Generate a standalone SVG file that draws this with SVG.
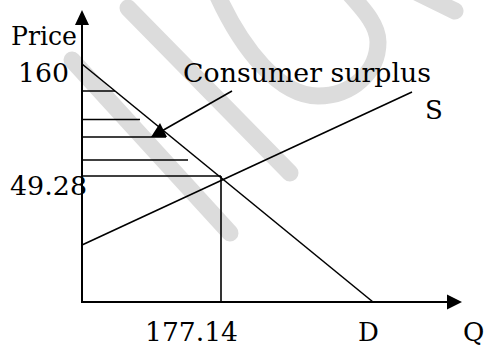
<svg xmlns="http://www.w3.org/2000/svg" width="485" height="347" viewBox="0 0 485 347">
  <style>
    .wm { fill: none; stroke: #dcdcdc; stroke-width: 17; stroke-linecap: round; stroke-linejoin: round; }
    .ax { stroke: #000; stroke-width: 2; fill: none; }
    .ln { stroke: #000; stroke-width: 1.6; fill: none; }
    .hl { stroke: #000; stroke-width: 1.6; fill: none; }
    .t { font-family: "DejaVu Serif", "Liberation Serif", serif; font-size: 26px; fill: #000; }
  </style>
  <rect width="485" height="347" fill="#fff"/>
  <g id="watermark">
    <line class="wm" x1="72" y1="60" x2="230" y2="233"/>
    <line class="wm" x1="128" y1="8" x2="290" y2="173"/>
    <path class="wm" d="M216,-8 C242,50 280,96 318,96 C352,96 378,72 378,42 C378,24 362,8 348,-8"/>
    <line class="wm" x1="412" y1="-10" x2="455" y2="11"/>
  </g>
  <g id="axes">
    <line class="ax" x1="82" y1="24" x2="82" y2="303"/>
    <polygon points="82,10 75,25 89,25" fill="#000"/>
    <line class="ax" x1="81" y1="302" x2="448" y2="302"/>
    <polygon points="462,302 447,294.5 447,309.5" fill="#000"/>
  </g>
  <g id="hatching">
    <line class="hl" x1="82" y1="91" x2="115" y2="91"/>
    <line class="hl" x1="82" y1="119.5" x2="140" y2="119.5"/>
    <line class="hl" x1="82" y1="137" x2="166" y2="137"/>
    <line class="hl" x1="82" y1="160" x2="188" y2="160"/>
    <line class="hl" x1="82" y1="176" x2="221" y2="176"/>
    <line class="hl" x1="221" y1="176" x2="221" y2="302"/>
  </g>
  <g id="demand">
    <line class="ln" x1="82" y1="64" x2="373" y2="302"/>
  </g>
  <g id="supply">
    <line class="ln" x1="82" y1="245" x2="412" y2="92"/>
  </g>
  <g id="connectors">
    <line class="ln" x1="232" y1="91" x2="160" y2="132"/>
    <polygon points="151,137 160,123 167,137" fill="#000"/>
  </g>
  <g id="labels">
    <text class="t" x="11" y="45" textLength="66" lengthAdjust="spacingAndGlyphs">Price</text>
    <text class="t" x="18" y="82" textLength="51" lengthAdjust="spacingAndGlyphs">160</text>
    <text class="t" x="183" y="82" textLength="248" lengthAdjust="spacingAndGlyphs">Consumer surplus</text>
    <text class="t" x="425" y="119">S</text>
    <text class="t" x="10" y="195" textLength="77" lengthAdjust="spacingAndGlyphs">49.28</text>
    <text class="t" x="145" y="341" textLength="93" lengthAdjust="spacingAndGlyphs">177.14</text>
    <text class="t" x="358" y="341">D</text>
    <text class="t" x="463" y="341">Q</text>
  </g>
</svg>
